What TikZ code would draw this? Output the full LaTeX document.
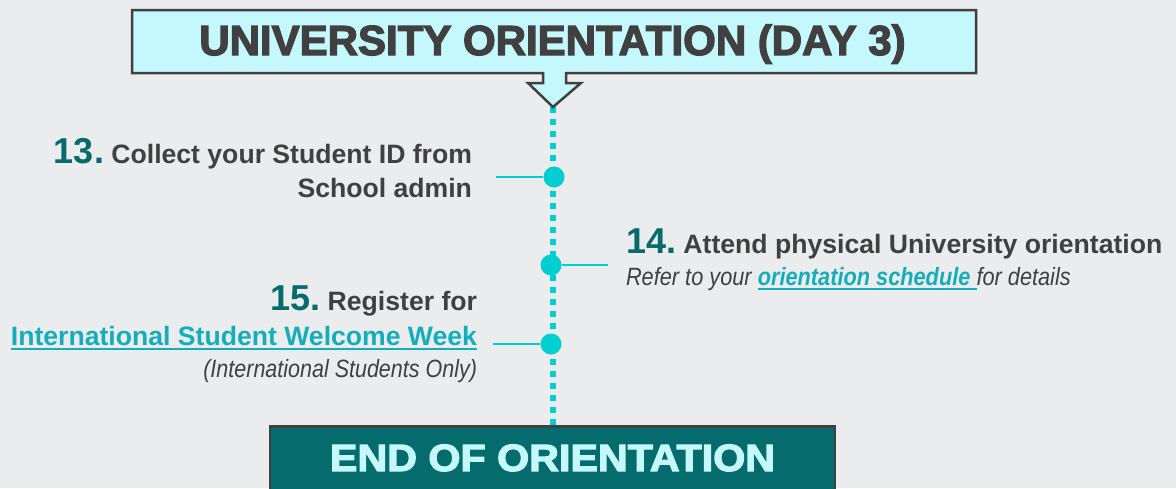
\documentclass[tikz,border=0pt]{standalone}
\usepackage{fontspec}
\setmainfont{Liberation Sans}
\newfontfamily\heavyfont{Liberation Sans}[BoldFeatures={FakeBold=3}]
\definecolor{bgc}{HTML}{EBECEE}
\definecolor{cyanc}{HTML}{00CED1}
\definecolor{boxfill}{HTML}{C4F8FC}
\definecolor{darkc}{HTML}{404040}
\definecolor{tealc}{HTML}{076B6B}
\definecolor{linkc}{HTML}{14AEBA}
\definecolor{endfill}{HTML}{066B6D}
\newsavebox\ulbox
\newcommand\myul[1]{\sbox\ulbox{#1}\rlap{\color{linkc}\rule[-4.5pt]{\wd\ulbox}{1.8pt}}\usebox\ulbox}
\newcommand\numf{\fontsize{36}{36}\selectfont\bfseries\color{tealc}}
\newcommand\bodyf{\fontsize{26.6}{30}\selectfont\bfseries\color{darkc}}
\newcommand\itf{\fontsize{25}{30}\selectfont\itshape\color{darkc}}
\tikzset{
  txt/.style={inner sep=0pt, outer sep=0pt},
  spine/.style={cyanc, line width=6pt, dash pattern=on 6pt off 6pt},
  hline/.style={cyanc, line width=1.5pt},
  dotn/.style={circle, fill=cyanc, minimum size=21pt, inner sep=0pt},
  topbox/.style={draw=darkc, fill=boxfill, line width=2.5pt, line join=miter},
  endbox/.style={draw=darkc, fill=endfill, line width=2.5pt, inner sep=0pt},
}
\begin{document}
\begin{tikzpicture}[x=1pt,y=-1pt]
\useasboundingbox (0,0) rectangle (1176,488);
\clip (0,0) rectangle (1176,488);
\fill[bgc] (0,0) rectangle (1176,488);
% spine
\coordinate (tip) at (553,107);
\node[endbox, minimum width=565pt, minimum height=80pt, anchor=north] (endb) at (552.5,425) {};
\draw[spine] (tip) -- (tip |- endb.north);
% redraw end box over spine
\node[endbox, minimum width=565pt, minimum height=80pt, anchor=north] (endb2) at (552.5,425) {};
\node[txt, anchor=base] (endlbl) at (552.5,471) {\scalebox{1.085}[1]{\heavyfont\bfseries\fontsize{38}{40}\selectfont\color{boxfill}END OF ORIENTATION}};
% top callout
\draw[topbox] (132,10) -- (976,10) -- (976,73) -- (566,73) -- (566,83) -- (581,83) -- (tip) -- (528,83) -- (543,83) -- (543,73) -- (132,73) -- cycle;
\node[txt, anchor=base] (title) at (552.5,55) {\heavyfont\bfseries\fontsize{42}{46}\selectfont\color{darkc}UNIVERSITY ORIENTATION (DAY 3)};
% dots and leaders
\node[dotn] (d1) at (554,177) {};
\node[dotn] (d2) at (551,265) {};
\node[dotn] (d3) at (551,344) {};
\coordinate (l1) at (496,177);
\coordinate (l2) at (608,265);
\coordinate (l3) at (493,344);
\draw[hline] (l1) -- (d1);
\draw[hline] (d2) -- (l2);
\draw[hline] (l3) -- (d3);
% step 13
\node[txt, anchor=base east] (s13a) at (472,163) {{\numf 13.}{\bodyf\ Collect your Student ID from}};
\node[txt, anchor=base east] (s13b) at (472,197) {\bodyf School admin};
% step 14
\node[txt, anchor=base west] (s14a) at (626,253) {{\numf 14.}{\bodyf\ Attend physical University orientation}};
\node[txt, anchor=base west] (s14b) at (626,285) {\scalebox{0.87}[1]{\itf Refer to your \myul{\bfseries\color{linkc}orientation schedule }for details}};
% step 15
\node[txt, anchor=base east] (s15a) at (477,310) {{\numf 15.}{\bodyf\ Register for}};
\node[txt, anchor=base east] (s15b) at (477,345) {\myul{\fontsize{26.6}{30}\selectfont\bfseries\color{linkc}International Student Welcome Week}};
\node[txt, anchor=base east] (s15c) at (477,377) {\scalebox{0.86}[1]{\itf (International Students Only)}};
\end{tikzpicture}
\end{document}
